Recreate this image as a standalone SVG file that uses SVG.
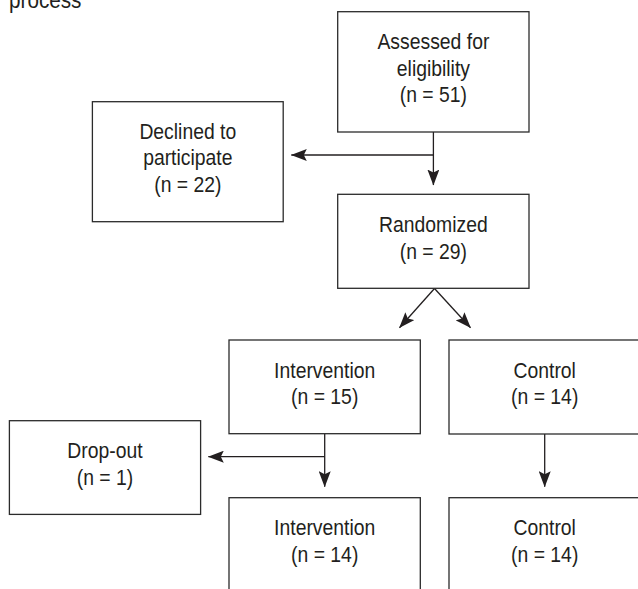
<svg xmlns="http://www.w3.org/2000/svg" width="638" height="589" viewBox="0 0 638 589">
<style>
  rect.box { fill: #ffffff; stroke: #2b2b2b; stroke-width: 1.3; }
  text { font-family: "Liberation Sans", Arial, sans-serif; font-size: 22px; fill: #231f20; text-anchor: middle; }
  text.caption { text-anchor: start; font-size: 23px; }
  .conn line { stroke: #231f20; stroke-width: 1.3; fill: none; }
</style>
<defs>
  <marker id="arrow" viewBox="0 0 16 12" refX="15.5" refY="6" markerWidth="16" markerHeight="12" markerUnits="userSpaceOnUse" orient="auto">
    <path d="M0,0 L16,6 L0,12 L3,6 z" fill="#231f20" stroke="none"/>
  </marker>
</defs>
<rect x="0" y="0" width="638" height="589" fill="#ffffff"/>

<text class="caption" x="9" y="8" transform="translate(9 0) scale(0.9 1) translate(-9 0)">process</text>

<g id="connectors" class="conn">
  <line x1="433.4" y1="132" x2="433.4" y2="185" marker-end="url(#arrow)"/>
  <line x1="433.4" y1="155" x2="291.3" y2="155" marker-end="url(#arrow)"/>
  <line x1="434.5" y1="288.5" x2="399.5" y2="327.7" marker-end="url(#arrow)"/>
  <line x1="434.5" y1="288.5" x2="470.5" y2="327.7" marker-end="url(#arrow)"/>
  <line x1="324.7" y1="433.7" x2="324.7" y2="486.7" marker-end="url(#arrow)"/>
  <line x1="324.7" y1="456.7" x2="208.3" y2="456.7" marker-end="url(#arrow)"/>
  <line x1="544.7" y1="434" x2="544.7" y2="486.7" marker-end="url(#arrow)"/>
</g>

<g id="assessed">
  <rect class="box" x="337.7" y="11.7" width="191.3" height="120.3"/>
  <text transform="translate(433.4 0) scale(0.88 1)"><tspan x="0" y="49.5">Assessed for</tspan><tspan x="0" y="76">eligibility</tspan><tspan x="0" y="102.5">(n = 51)</tspan></text>
</g>

<g id="declined">
  <rect class="box" x="92.4" y="101.7" width="190.8" height="120"/>
  <text transform="translate(187.8 0) scale(0.88 1)"><tspan x="0" y="139">Declined to</tspan><tspan x="0" y="165.5">participate</tspan><tspan x="0" y="192.5">(n = 22)</tspan></text>
</g>

<g id="randomized">
  <rect class="box" x="337.7" y="194.3" width="191.3" height="94"/>
  <text transform="translate(433.4 0) scale(0.88 1)"><tspan x="0" y="232">Randomized</tspan><tspan x="0" y="259">(n = 29)</tspan></text>
</g>

<g id="intervention1">
  <rect class="box" x="229" y="340" width="191.3" height="93.7"/>
  <text transform="translate(324.7 0) scale(0.88 1)"><tspan x="0" y="378">Intervention</tspan><tspan x="0" y="404.5">(n = 15)</tspan></text>
</g>

<g id="control1">
  <rect class="box" x="449" y="340" width="191.3" height="94"/>
  <text transform="translate(544.7 0) scale(0.88 1)"><tspan x="0" y="378.5">Control</tspan><tspan x="0" y="404.5">(n = 14)</tspan></text>
</g>

<g id="dropout">
  <rect class="box" x="9.4" y="420.7" width="191.2" height="93.7"/>
  <text transform="translate(105 0) scale(0.88 1)"><tspan x="0" y="458.3">Drop-out</tspan><tspan x="0" y="485">(n = 1)</tspan></text>
</g>

<g id="intervention2">
  <rect class="box" x="229" y="497.7" width="191.3" height="100"/>
  <text transform="translate(324.7 0) scale(0.88 1)"><tspan x="0" y="535">Intervention</tspan><tspan x="0" y="562">(n = 14)</tspan></text>
</g>

<g id="control2">
  <rect class="box" x="449" y="497.7" width="191.3" height="100"/>
  <text transform="translate(544.7 0) scale(0.88 1)"><tspan x="0" y="535">Control</tspan><tspan x="0" y="562">(n = 14)</tspan></text>
</g>
</svg>
